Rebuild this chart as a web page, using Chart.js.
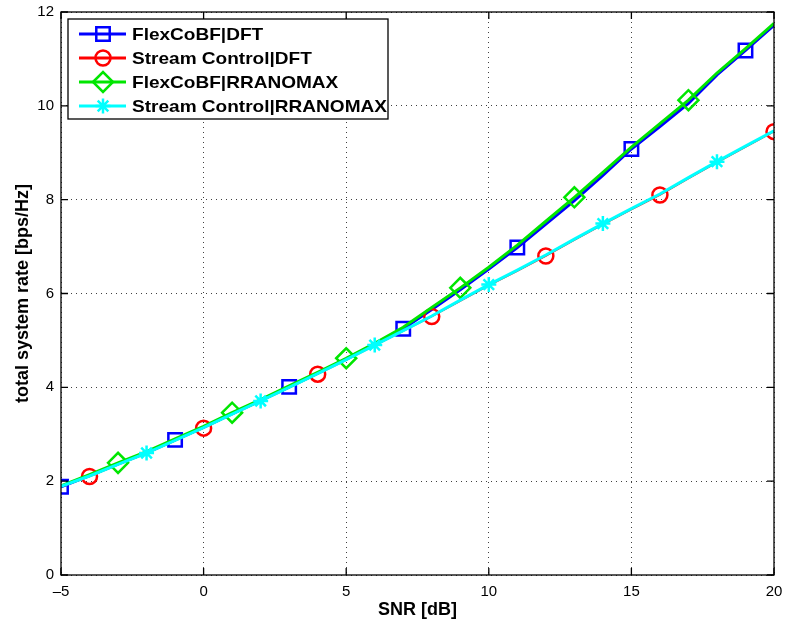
<!DOCTYPE html>
<html>
<head>
<meta charset="utf-8">
<script src="https://cdn.jsdelivr.net/npm/chart.js@4/dist/chart.umd.min.js"></script>
<style>
  body { margin: 0; background: #fff; }
  #wrap { width: 786px; height: 626px; }
</style>
</head>
<body>
<div id="wrap"><canvas id="rateChart" width="786" height="626"></canvas></div>
<script>
// SNR grid in dB
const snr = [-5, -4, -3, -2, -1, 0, 1, 2, 3, 4, 5, 6, 7, 8, 9, 10, 11, 12, 13, 14, 15, 16, 17, 18, 19, 20];

// total system rate [bps/Hz]
const flexDft     = [1.88, 2.12, 2.37, 2.61, 2.88, 3.15, 3.44, 3.72, 4.01, 4.30, 4.60, 4.92, 5.25, 5.66, 6.08, 6.52, 6.98, 7.48, 7.98, 8.52, 9.08, 9.56, 10.05, 10.66, 11.18, 11.72];
const streamDft   = [1.88, 2.10, 2.35, 2.59, 2.86, 3.13, 3.42, 3.70, 3.99, 4.28, 4.58, 4.89, 5.20, 5.51, 5.84, 6.17, 6.48, 6.80, 7.14, 7.47, 7.79, 8.10, 8.45, 8.79, 9.12, 9.45];
const flexRrano   = [1.90, 2.14, 2.39, 2.63, 2.90, 3.17, 3.46, 3.74, 4.03, 4.32, 4.62, 4.94, 5.28, 5.70, 6.12, 6.56, 7.03, 7.54, 8.05, 8.58, 9.12, 9.62, 10.12, 10.70, 11.22, 11.76];
const streamRrano = [1.89, 2.11, 2.36, 2.60, 2.87, 3.14, 3.43, 3.71, 4.00, 4.29, 4.59, 4.90, 5.21, 5.52, 5.86, 6.19, 6.50, 6.82, 7.16, 7.49, 7.81, 8.12, 8.47, 8.81, 9.14, 9.47];

const xTicks = [-5, 0, 5, 10, 15, 20];
const yTicks = [0, 2, 4, 6, 8, 10, 12];

const FONT = "'Liberation Sans', Arial, sans-serif";

// markers only every 4th sample, offset per curve (like MATLAB plots)
function markerEvery(offset, r) {
    return function(ctx) {
        return ctx.dataIndex % 4 === offset ? r : 0;
    };
}

function makeSet(label, data, color, style, radius, offset, order, width) {
    return {
        label: label,
        data: snr.map((x, i) => ({ x: x, y: data[i] })),
        borderColor: color,
        backgroundColor: 'rgba(0,0,0,0)',
        borderWidth: width,
        pointStyle: style,
        pointRadius: markerEvery(offset, radius),
        pointHoverRadius: markerEvery(offset, radius),
        pointBorderWidth: 2.5,
        pointBorderColor: color,
        pointBackgroundColor: 'rgba(0,0,0,0)',
        tension: 0,
        order: order,
        markerRadius: radius
    };
}

// box, inward ticks and the legend drawn the matlab way
const matlabFrame = {
    id: 'matlabFrame',
    afterDraw(chart) {
        const c = chart.ctx;
        const a = chart.chartArea;
        const xs = chart.scales.x;
        const ys = chart.scales.y;
        c.save();
        c.strokeStyle = '#000';
        c.lineWidth = 1.3;
        c.strokeRect(a.left, a.top, a.right - a.left, a.bottom - a.top);
        c.beginPath();
        xTicks.forEach(v => {
            const px = xs.getPixelForValue(v);
            c.moveTo(px, a.bottom); c.lineTo(px, a.bottom - 7);
            c.moveTo(px, a.top); c.lineTo(px, a.top + 7);
        });
        yTicks.forEach(v => {
            const py = ys.getPixelForValue(v);
            c.moveTo(a.left, py); c.lineTo(a.left + 7, py);
            c.moveTo(a.right, py); c.lineTo(a.right - 7, py);
        });
        c.stroke();

        // legend
        const bx = 68, by = 19, bw = 320, bh = 100;
        c.fillStyle = '#fff';
        c.fillRect(bx, by, bw, bh);
        c.lineWidth = 1.3;
        c.strokeRect(bx, by, bw, bh);
        chart.data.datasets.forEach((ds, i) => {
            const y = 34 + i * 24;
            c.strokeStyle = ds.borderColor;
            c.lineWidth = 3;
            c.beginPath();
            c.moveTo(79, y); c.lineTo(126, y);
            c.stroke();
            c.lineWidth = 2.5;
            c.fillStyle = 'rgba(0,0,0,0)';
            Chart.helpers.drawPoint(c, { pointStyle: ds.pointStyle, radius: ds.markerRadius, borderWidth: 2.5 }, 103, y);
            c.save();
            c.translate(132, y + 1);
            c.scale(1.12, 1);
            c.fillStyle = '#000';
            c.font = 'bold 17px ' + FONT;
            c.textBaseline = 'middle';
            c.textAlign = 'left';
            c.fillText(ds.label, 0, 0);
            c.restore();
        });
        c.restore();
    }
};

const gridStyle = {
    color: 'rgba(0,0,0,0.75)',
    lineWidth: 1,
    drawTicks: false
};

new Chart(document.getElementById('rateChart'), {
    type: 'line',
    data: {
        datasets: [
            makeSet('FlexCoBF|DFT', flexDft, '#0000ff', 'rect', 9.5, 0, 4, 3),
            makeSet('Stream Control|DFT', streamDft, '#ff0000', 'circle', 7.5, 1, 3, 1.5),
            makeSet('FlexCoBF|RRANOMAX', flexRrano, '#00e600', 'rectRot', 10, 2, 2, 3),
            makeSet('Stream Control|RRANOMAX', streamRrano, '#00ffff', 'star', 7.5, 3, 1, 3)
        ]
    },
    options: {
        responsive: false,
        animation: false,
        layout: { padding: { top: 11, right: 9, left: 0, bottom: 0 } },
        plugins: {
            legend: { display: false },
            tooltip: { enabled: false }
        },
        scales: {
            x: {
                type: 'linear',
                min: -5,
                max: 20,
                afterBuildTicks: s => { s.ticks = xTicks.map(v => ({ value: v })); },
                afterFit: s => { s.height = 51; s.paddingLeft = 0; s.paddingRight = 0; },
                grid: gridStyle,
                border: { display: false, dash: [1, 4] },
                ticks: {
                    color: '#000',
                    padding: 8,
                    font: { size: 15, family: FONT },
                    callback: v => (v < 0 ? '\u2013' + Math.abs(v) : String(v))
                },
                title: {
                    display: true,
                    text: 'SNR [dB]',
                    color: '#000',
                    font: { size: 18, weight: 'bold', family: FONT },
                    padding: { top: 0, bottom: 5 }
                }
            },
            y: {
                min: 0,
                max: 12,
                afterBuildTicks: s => { s.ticks = yTicks.map(v => ({ value: v })); },
                afterFit: s => { s.width = 61; s.paddingTop = 0; s.paddingBottom = 0; },
                grid: gridStyle,
                border: { display: false, dash: [1, 4] },
                ticks: {
                    color: '#000',
                    padding: 7,
                    font: { size: 15, family: FONT }
                },
                title: {
                    display: true,
                    text: 'total system rate [bps/Hz]',
                    color: '#000',
                    font: { size: 18, weight: 'bold', family: FONT },
                    padding: { top: 12, bottom: 0 }
                }
            }
        }
    },
    plugins: [matlabFrame]
});
</script>
</body>
</html>
